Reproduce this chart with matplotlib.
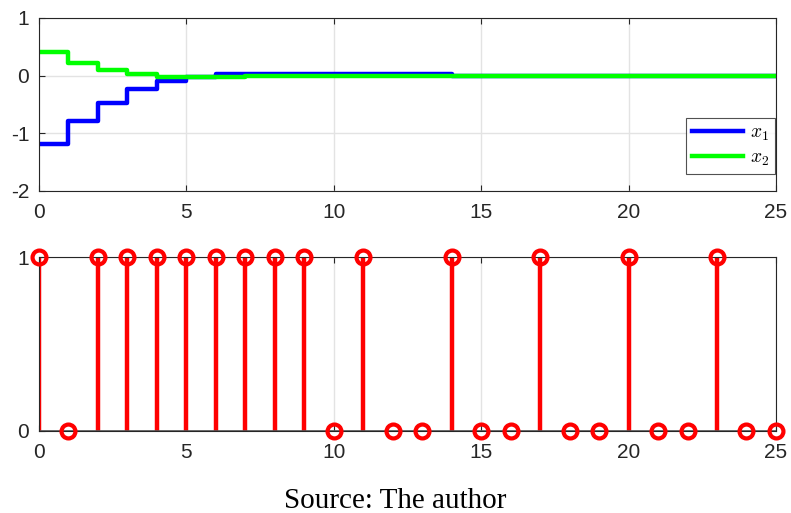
import numpy as np
import matplotlib
matplotlib.use("Agg")
import matplotlib.pyplot as plt

plt.rcParams['font.family'] = ['Liberation Sans', 'DejaVu Sans']
plt.rcParams['mathtext.fontset'] = 'cm'

# states of the closed loop
k = np.arange(0, 26)
x1 = [-1.19, -0.79, -0.47, -0.23, -0.09, -0.02, 0.02, 0.03, 0.03, 0.03,
      0.03, 0.03, 0.03, 0.03, -0.005, -0.005, -0.005, -0.005, -0.005, -0.01,
      -0.01, -0.01, -0.01, -0.01, -0.01, -0.01]
x2 = [0.41, 0.21, 0.09, 0.02, -0.02, -0.025, -0.02, -0.015, -0.01, -0.01,
      -0.01, -0.01, -0.01, -0.01, -0.01, -0.01, -0.01, -0.01, -0.01, -0.01,
      -0.01, -0.01, -0.01, -0.01, -0.01, -0.01]

# transmission instants
gamma = [1, 0, 1, 1, 1, 1, 1, 1, 1, 1, 0, 1, 0, 0, 1, 0, 0, 1, 0, 0,
         1, 0, 0, 1, 0, 0]

axcol = '#262626'
gridcol = '#e3e3e3'

fig = plt.figure(figsize=(7.91, 5.13), dpi=100)
ax1 = fig.add_axes([0.0493, 0.628, 0.9317, 0.337])
ax2 = fig.add_axes([0.0493, 0.160, 0.9317, 0.339])

for ax in (ax1, ax2):
    for s in ax.spines.values():
        s.set_color(axcol)
        s.set_linewidth(0.8)
    ax.tick_params(direction='in', length=4, width=0.8, colors=axcol,
                   labelsize=15, top=True, right=False, pad=9)
    ax.tick_params(axis='y', right=False, pad=7)
    ax.grid(True, color=gridcol, linewidth=1)
    ax.set_axisbelow(True)
    ax.set_xlim(0, 25)
    ax.set_xticks([0, 5, 10, 15, 20, 25])

ax1.step(k, x1, where='post', color='#0000ff', lw=3.2, label='$x_1$')
ax1.step(k, x2, where='post', color='#00ff00', lw=3.2, label='$x_2$')
ax1.set_ylim(-2, 1)
ax1.set_yticks([-2, -1, 0, 1])
ax1.set_yticklabels(['-2', '-1', '0', '1'])
leg = ax1.legend(loc='lower right', fontsize=14, frameon=True, fancybox=False,
                 edgecolor=axcol, handlelength=2.6, borderpad=0.3,
                 labelspacing=0.3, handletextpad=0.4, borderaxespad=0,
                 bbox_to_anchor=(0.999, 0.1))
leg.get_frame().set_linewidth(0.8)

ml, sl, bl = ax2.stem(k, gamma, linefmt='r-', markerfmt='ro', basefmt='-')
plt.setp(sl, linewidth=3.2, color='#ff0000')
plt.setp(ml, markersize=10, markerfacecolor='none', markeredgecolor='#ff0000',
         markeredgewidth=3, clip_on=False, zorder=4)
plt.setp(bl, color='#555555', linewidth=1.2)
ax2.set_ylim(0, 1)
ax2.set_yticks([0, 1])

fig.text(0.5, 0.010, 'Source: The author', ha='center', va='baseline',
         fontsize=21, family='Liberation Serif')

fig.savefig('out.png', dpi=100)
